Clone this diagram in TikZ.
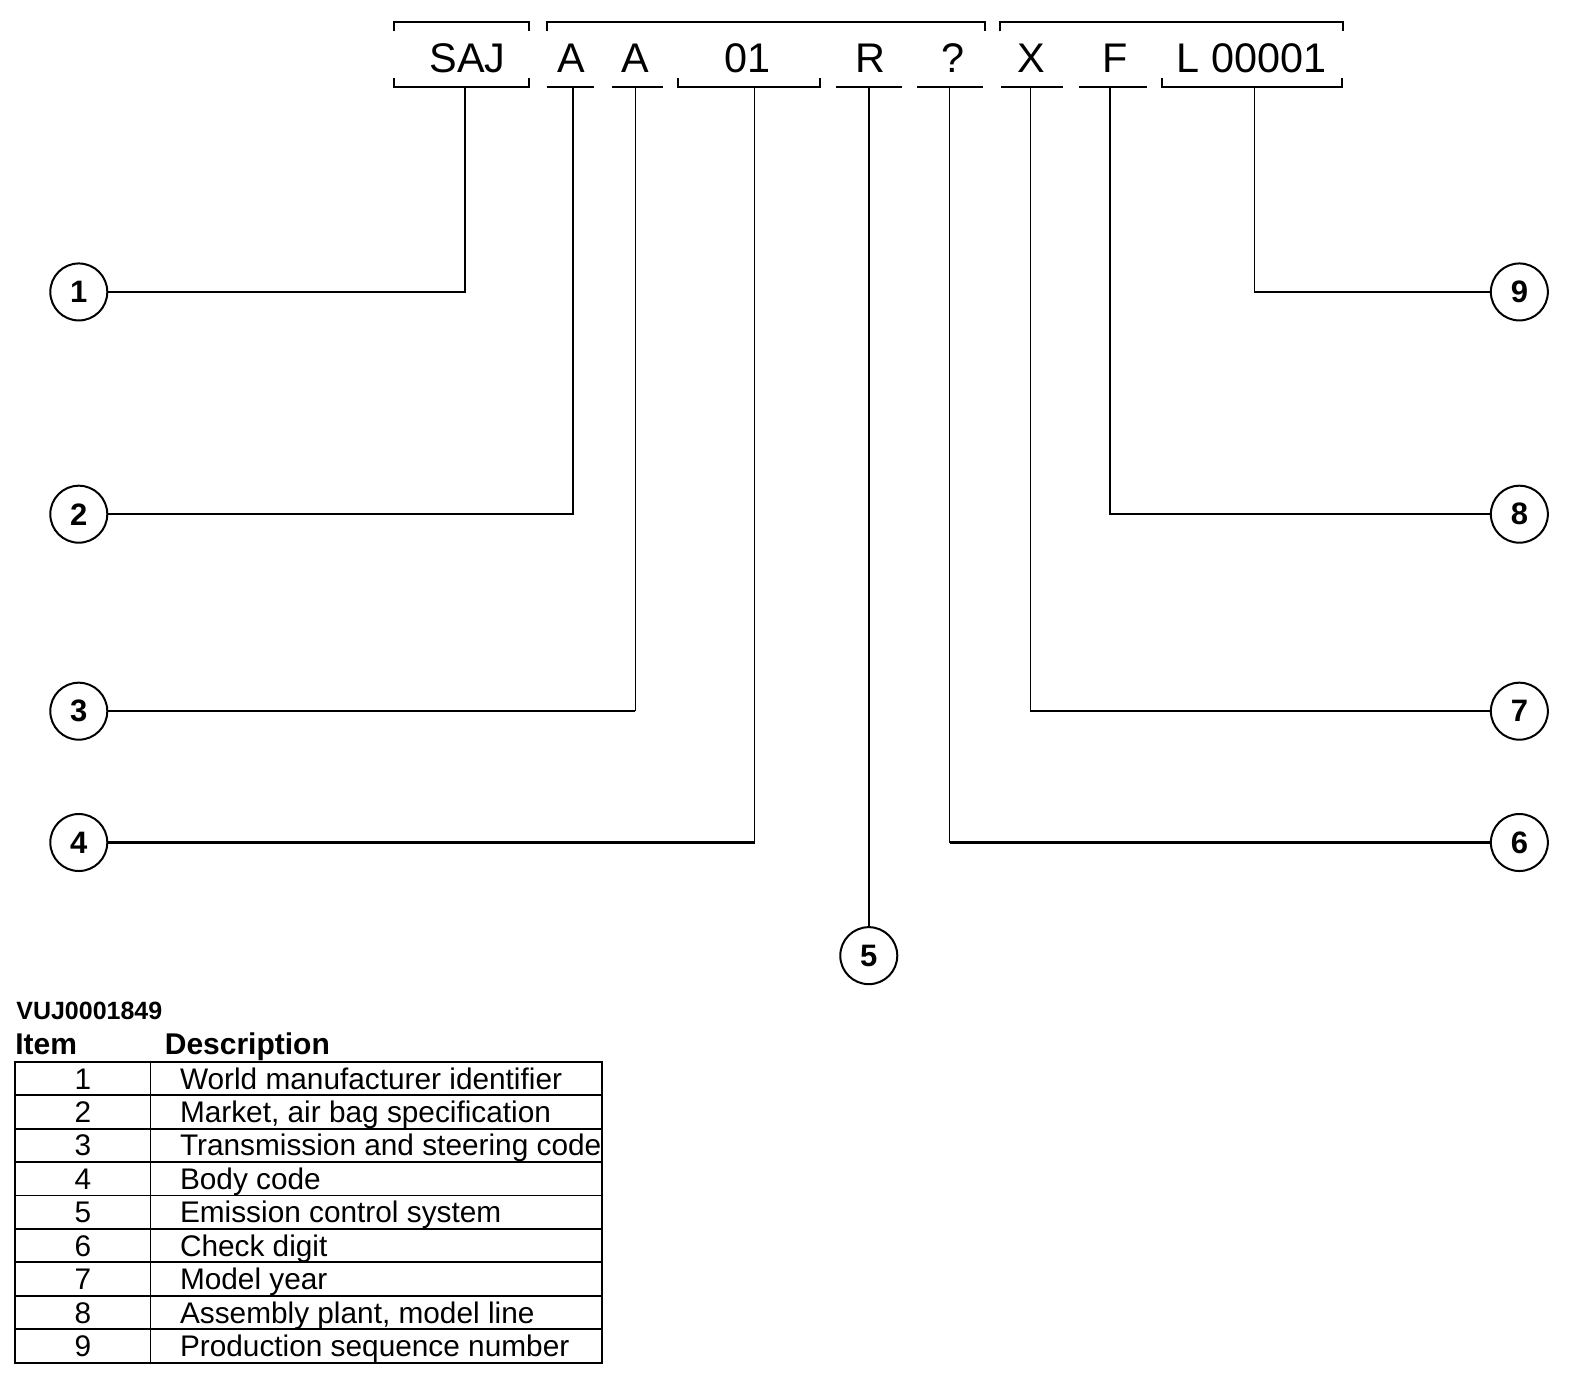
\documentclass[tikz,border=0pt]{standalone}
\usepackage{fontspec}
\setmainfont{Liberation Sans}
\begin{document}
\begin{tikzpicture}[x=1.0102pt,y=-1.0102pt,
  vin/.style={anchor=base,inner sep=0pt,font=\fontsize{41.4}{45}\selectfont},
  circ/.style={circle,draw,line width=2pt,minimum size=57pt,inner sep=0pt,font=\fontsize{31}{34}\selectfont\bfseries},
  brk/.style={line width=2pt},
  lead/.style={line width=1.6pt},
  leadb/.style={line width=2.6pt},
  cell/.style={anchor=base,inner sep=0pt,font=\fontsize{29.8}{32}\selectfont},
  hdr/.style={anchor=base west,inner sep=0pt,font=\fontsize{30}{32}\selectfont\bfseries},
  grid/.style={line width=1.8pt}]
\useasboundingbox (0,0) rectangle (1568,1370);

% VIN characters
\node[vin] (saj) at (463,72) {SAJ};
\node[vin] (a1) at (566,72) {A};
\node[vin] (a2) at (629,72) {A};
\node[vin] (n01) at (740,72) {01};
\node[vin] (r) at (862,72) {R};
\node[vin] (q) at (943,72) {?};
\node[vin] (x) at (1021,72) {X};
\node[vin] (f) at (1104,72) {F};
\node[vin] (l) at (1239,72) {L 00001};

% top brackets
\draw[brk] (390,31) -- (390,22) -- (524,22) -- (524,31);
\draw[brk] (541,31) -- (541,22) -- (975,22) -- (975,31);
\draw[brk] (990,31) -- (990,22) -- (1329,22) -- (1329,31);
% bottom brackets / underlines
\draw[brk] (390,77) -- (390,86) -- (524,86) -- (524,77);
\draw[brk] (541,86) -- (588,86);
\draw[brk] (606,86) -- (656,86);
\draw[brk] (671,77) -- (671,86) -- (812,86) -- (812,77);
\draw[brk] (828,86) -- (893,86);
\draw[brk] (908,86) -- (973,86);
\draw[brk] (991,86) -- (1052,86);
\draw[brk] (1068,86) -- (1135,86);
\draw[brk] (1150,77) -- (1150,86) -- (1328,86) -- (1328,77);

% leader start points
\coordinate (u1) at (460,86);
\coordinate (u2) at (567,86);
\coordinate (u3) at (629,86);
\coordinate (u4) at (747,86);
\coordinate (u5) at (860,86);
\coordinate (u6) at (940,86);
\coordinate (u7) at (1020,86);
\coordinate (u8) at (1099,86);
\coordinate (u9) at (1242,86);

% callout circles
\node[circ] (c1) at (78,289) {1};
\node[circ] (c2) at (78,509) {2};
\node[circ] (c3) at (78,704) {3};
\node[circ] (c4) at (78,834) {4};
\node[circ] (c5) at (860,946) {5};
\node[circ] (c6) at (1504,834) {6};
\node[circ] (c7) at (1504,704) {7};
\node[circ] (c8) at (1504,509) {8};
\node[circ] (c9) at (1504,289) {9};

% leaders
\draw[lead] (u1) |- (c1);
\draw[lead] (u2) |- (c2);
\draw[lead] (u3) -- (u3 |- c3);
\draw[leadb] (u3 |- c3) -- (c3);
\draw[lead] (u4) -- (u4 |- c4);
\draw[leadb] (u4 |- c4) -- (c4);
\draw[lead] (u5) -- (c5);
\draw[lead] (u6) -- (u6 |- c6);
\draw[leadb] (u6 |- c6) -- (c6);
\draw[lead] (u7) -- (u7 |- c7);
\draw[leadb] (u7 |- c7) -- (c7);
\draw[lead] (u8) |- (c8);
\draw[lead] (u9) |- (c9);

% legend
\node[anchor=base west,inner sep=0pt,font=\fontsize{25}{27}\selectfont\bfseries] (ref) at (16,1009) {VUJ0001849};
\node[hdr] (hitem) at (15,1044) {Item};
\node[hdr] (hdesc) at (163,1044) {Description};

\draw[grid] (15,1051) rectangle (596,1349);
\draw[grid] (149,1051) -- (149,1349);
\foreach \i in {1,...,8} {
  \draw[grid] (15,{1051+\i*33.1}) -- (596,{1051+\i*33.1});
}
\foreach \n/\t [count=\k from 0] in {1/World manufacturer identifier,
  2/{Market, air bag specification},
  3/Transmission and steering code,
  4/Body code,
  5/Emission control system,
  6/Check digit,
  7/Model year,
  8/{Assembly plant, model line},
  9/Production sequence number} {
  \node[cell] (num\n) at (82,{1078+\k*33.1}) {\n};
  \node[cell,anchor=base west] (desc\n) at (178,{1078+\k*33.1}) {\t};
}
\end{tikzpicture}
\end{document}
